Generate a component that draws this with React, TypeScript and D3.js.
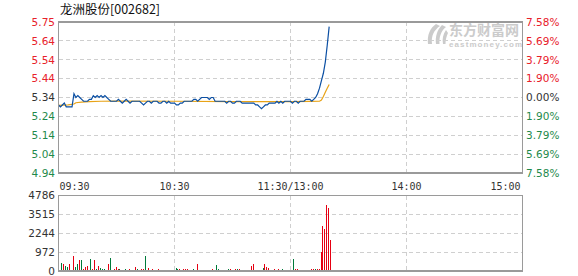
import React from "react";
import * as d3 from "d3";

// 龙洲股份 intraday minute chart (9:30 – 15:00), previous close 5.34
const title = "龙洲股份[002682]";
const prevClose = 5.34;
const priceLabels = ["5.75", "5.64", "5.54", "5.44", "5.34", "5.24", "5.14", "5.04", "4.94"];
const pctLabels = ["7.58%", "5.69%", "3.79%", "1.90%", "0.00%", "1.90%", "3.79%", "5.69%", "7.58%"];
const pctRange = 7.58;
const timeLabels = ["09:30", "10:30", "11:30/13:00", "14:00", "15:00"];
const timeTickMinutes = [0, 60, 120, 180, 240];
const volLabels = ["4786", "3515", "2244", "972", "0"];
const volMax = 4786;

// minute prices from 09:30 (index 0) through 13:20 (index 140)
const prices = [
  5.30, 5.29, 5.30, 5.31, 5.29, 5.29, 5.29, 5.29, 5.36, 5.34,
  5.35, 5.34, 5.33, 5.32, 5.32, 5.32, 5.33, 5.33, 5.35, 5.34,
  5.35, 5.34, 5.35, 5.34, 5.35, 5.34, 5.33, 5.32, 5.32, 5.32,
  5.32, 5.33, 5.32, 5.31, 5.32, 5.33, 5.32, 5.31, 5.32, 5.32,
  5.32, 5.32, 5.32, 5.31, 5.30, 5.31, 5.32, 5.32, 5.31, 5.32,
  5.32, 5.32, 5.31, 5.31, 5.32, 5.32, 5.31, 5.32, 5.31, 5.31,
  5.31, 5.30, 5.30, 5.31, 5.31, 5.32, 5.32, 5.32, 5.32, 5.32,
  5.33, 5.33, 5.32, 5.33, 5.34, 5.34, 5.34, 5.34, 5.33, 5.34,
  5.34, 5.32, 5.32, 5.32, 5.32, 5.32, 5.32, 5.31, 5.32, 5.32,
  5.31, 5.31, 5.32, 5.32, 5.32, 5.31, 5.31, 5.31, 5.31, 5.31,
  5.31, 5.31, 5.30, 5.30, 5.29, 5.28, 5.29, 5.30, 5.30, 5.31,
  5.31, 5.31, 5.31, 5.32, 5.31, 5.32, 5.31, 5.32, 5.32, 5.32,
  5.32, 5.31, 5.32, 5.32, 5.31, 5.32, 5.32, 5.32, 5.33, 5.33,
  5.33, 5.32, 5.33, 5.34, 5.36, 5.39, 5.43, 5.47, 5.53, 5.62,
  5.72,
];

// average price line, sampled at the listed minutes
const avgMinutes = [0, 5, 8, 9, 12, 16, 22, 30, 60, 90, 120, 130, 135, 136, 137, 138, 139, 140];
const avgPrices = [5.298, 5.300, 5.305, 5.312, 5.315, 5.318, 5.320, 5.321, 5.320, 5.318, 5.318, 5.319, 5.320, 5.326, 5.345, 5.368, 5.39, 5.41];

// per-minute volume (lots) and direction (1 up / -1 down)
const volumes = [
  0, 527, 444, 317, 275, 444, 60, 940, 275, 444,
  680, 700, 106, 275, 317, 60, 782, 106, 697, 106,
  317, 190, 148, 106, 0, 444, 824, 63, 106, 232,
  148, 148, 63, 0, 148, 40, 106, 63, 0, 275,
  106, 63, 106, 106, 951, 0, 190, 0, 148, 0,
  0, 106, 63, 63, 63, 63, 63, 63, 63, 0,
  190, 148, 106, 0, 106, 106, 148, 0, 0, 148,
  63, 444, 63, 63, 63, 63, 63, 63, 0, 106,
  0, 401, 148, 63, 63, 0, 0, 148, 148, 0,
  63, 148, 148, 106, 0, 63, 0, 63, 0, 296,
  465, 63, 63, 0, 0, 169, 423, 254, 169, 63,
  0, 127, 0, 127, 63, 127, 0, 0, 63, 0,
  0, 740, 127, 127, 63, 63, 63, 0, 0, 0,
  127, 127, 127, 127, 127, 1205, 2853, 2684, 4164, 3974,
  1944,
];
const directions = [
  1, -1, 1, -1, -1, 1, 1, 1, -1, -1,
  1, -1, 1, 1, 1, 1, -1, 1, 1, -1,
  1, -1, -1, -1, 1, 1, -1, 1, 1, 1,
  1, -1, 1, 1, -1, 1, 1, 1, 1, 1,
  -1, 1, 1, 1, -1, 1, 1, 1, 1, 1,
  1, 1, -1, 1, 1, 1, 1, 1, 1, 1,
  -1, -1, 1, 1, 1, 1, 1, 1, 1, -1,
  1, 1, 1, 1, 1, 1, 1, 1, 1, 1,
  1, -1, -1, 1, 1, 1, 1, -1, 1, 1,
  1, 1, -1, 1, 1, 1, 1, -1, 1, 1,
  1, 1, 1, 1, 1, -1, 1, 1, 1, 1,
  1, 1, 1, 1, -1, -1, 1, 1, 1, 1,
  1, -1, 1, 1, 1, 1, 1, 1, 1, 1,
  1, 1, -1, 1, 1, 1, 1, 1, 1, 1,
  1,
];

const W = 578;
const H = 276;
const LEFT = 58.5;
const RIGHT = 522.5;
const P_TOP = 22;
const P_BOTTOM = 173;
const V_TOP = 195.5;
const V_BOTTOM = 271;

const RED = "#e8202a";
const GREEN = "#1f8a4c";
const UP_BAR = "#e60012";
const DOWN_BAR = "#007a3a";
const GRID = "#cfcfcf";
const BORDER = "#9a9a9a";
const TEXT = "#333333";

export default function App() {
  const x = d3.scaleLinear().domain([0, 240]).range([LEFT, RIGHT]);
  const lo = prevClose * (1 - pctRange / 100);
  const hi = prevClose * (1 + pctRange / 100);
  const y = d3.scaleLinear().domain([lo, hi]).range([P_BOTTOM, P_TOP]);
  const yv = d3.scaleLinear().domain([0, volMax]).range([V_BOTTOM, V_TOP]);

  const nTicks = priceLabels.length - 1;
  const priceTickY = priceLabels.map((_, k) => y(hi - ((hi - lo) * k) / nTicks));
  const volTickY = volLabels.map((_, k) => yv(volMax - (volMax * k) / (volLabels.length - 1)));

  const priceLine = d3
    .line<number>()
    .x((_, i) => x(i))
    .y((d) => y(d));
  const avgLine = d3
    .line<number>()
    .x((_, i) => x(avgMinutes[i]))
    .y((d) => y(d));

  const labelColor = (k: number) => (k < 4 ? RED : k === 4 ? TEXT : GREEN);
  const font = "'DejaVu Sans', Verdana, sans-serif";
  const mono = "'DejaVu Sans Mono', monospace";

  return (
    <svg
      width={W}
      height={H}
      style={{ position: "absolute", left: 0, top: 0, background: "#fff" }}
    >
      <rect width={W} height={H} fill="#fff" />
      <text x={60} y={14} fontSize={12.5} fill="#111" fontFamily="'Noto Sans CJK SC', sans-serif">
        {title}
      </text>

      {/* watermark */}
      <g fill="#c9c9c9" opacity={0.95}>
        <path d="M436 24 C430 28 427 35 428 44 L432 44 C431 36 434 30 440 26 Z" />
        <path d="M442 25 C437 30 435 37 436 44 L439.5 44 C439 37 441 31 446 27 Z" />
        <path d="M446 30 C443 34 442 39 443 44 L445.5 44 C445.5 40 446.5 36 448 33 Z" />
        <text x={449} y={35} fontSize={14} fontWeight="bold" fontFamily="'Noto Sans CJK SC', sans-serif">
          东方财富网
        </text>
        <text x={449} y={47} fontSize={8} fontWeight="bold" letterSpacing={1.1} fontFamily="Arial, 'Liberation Sans', sans-serif">
          eastmoney.com
        </text>
      </g>

      {/* grid */}
      <g stroke={GRID} strokeDasharray="4,3" shapeRendering="crispEdges">
        {priceTickY.slice(1, -1).map((py, k) => (
          <line key={"ph" + k} x1={LEFT} x2={RIGHT} y1={py} y2={py} />
        ))}
        {timeTickMinutes.slice(1, -1).map((m) => (
          <line key={"pv" + m} x1={x(m)} x2={x(m)} y1={P_TOP} y2={P_BOTTOM} />
        ))}
        {volTickY.slice(1, -1).map((vy, k) => (
          <line key={"vh" + k} x1={LEFT} x2={RIGHT} y1={vy} y2={vy} />
        ))}
        {timeTickMinutes.slice(1, -1).map((m) => (
          <line key={"vv" + m} x1={x(m)} x2={x(m)} y1={V_TOP} y2={V_BOTTOM} />
        ))}
      </g>

      {/* volume bars */}
      <g shapeRendering="crispEdges">
        {volumes.map((v, i) =>
          v > 0 ? (
            <rect
              key={"b" + i}
              x={Math.round(x(i)) + 1}
              y={yv(v)}
              width={1}
              height={yv(0) - yv(v)}
              fill={directions[i] > 0 ? UP_BAR : DOWN_BAR}
            />
          ) : null
        )}
      </g>

      {/* lines */}
      <path d={avgLine(avgPrices) || ""} fill="none" stroke="#e8a317" strokeWidth={1.2} />
      <path d={priceLine(prices) || ""} fill="none" stroke="#0b4fa3" strokeWidth={1.2} />

      {/* frames */}
      <g fill="none" stroke={BORDER} strokeWidth={1.3} shapeRendering="crispEdges">
        <rect x={LEFT} y={P_TOP} width={RIGHT - LEFT} height={P_BOTTOM - P_TOP} />
        <rect x={LEFT} y={V_TOP} width={RIGHT - LEFT} height={V_BOTTOM - V_TOP} />
      </g>

      {/* axis labels */}
      <g fontFamily={font} fontSize={10.5}>
        {priceLabels.map((t, k) => (
          <text key={"pl" + k} x={55} y={priceTickY[k]} dy="0.36em" textAnchor="end" fill={labelColor(k)}>
            {t}
          </text>
        ))}
        {pctLabels.map((t, k) => (
          <text key={"pr" + k} x={526} y={priceTickY[k]} dy="0.36em" textAnchor="start" fill={labelColor(k)}>
            {t}
          </text>
        ))}
        {volLabels.map((t, k) => (
          <text key={"vl" + k} x={55} y={volTickY[k]} dy="0.36em" textAnchor="end" fill={TEXT}>
            {t}
          </text>
        ))}
      </g>

      {/* time axis */}
      <g fontFamily={mono} fontSize={10} fill={TEXT}>
        {timeLabels.map((t, k) => {
          const anchor = k === 0 ? "start" : k === timeLabels.length - 1 ? "end" : "middle";
          const tx = k === 0 ? x(0) + 1 : k === timeLabels.length - 1 ? x(240) - 2 : x(timeTickMinutes[k]);
          return (
            <text key={"t" + k} x={tx} y={189.5} textAnchor={anchor}>
              {t}
            </text>
          );
        })}
      </g>
    </svg>
  );
}
